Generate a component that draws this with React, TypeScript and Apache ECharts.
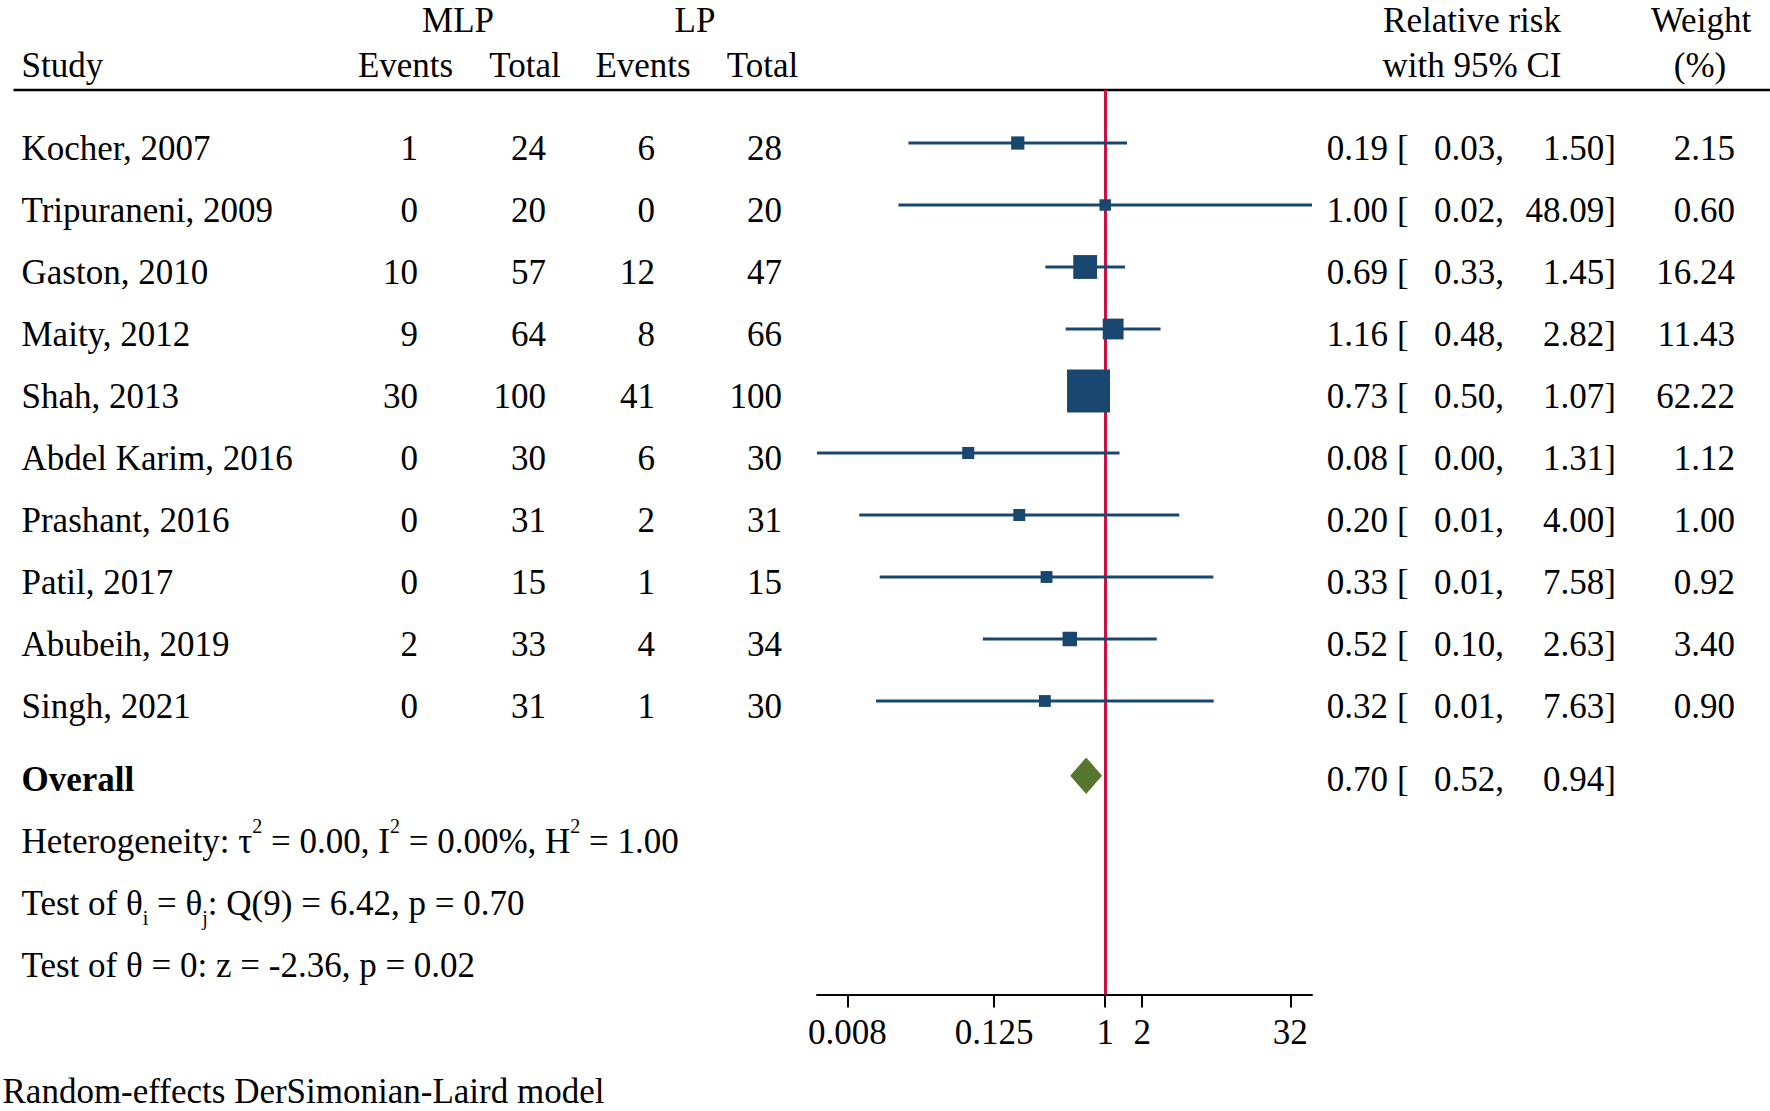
import React, { useEffect, useRef } from "react";
import * as echarts from "echarts";

// ---------- data ----------
const studies = [
  "Kocher, 2007",
  "Tripuraneni, 2009",
  "Gaston, 2010",
  "Maity, 2012",
  "Shah, 2013",
  "Abdel Karim, 2016",
  "Prashant, 2016",
  "Patil, 2017",
  "Abubeih, 2019",
  "Singh, 2021",
];
const mlpEvents = [1, 0, 10, 9, 30, 0, 0, 0, 2, 0];
const mlpTotal = [24, 20, 57, 64, 100, 30, 31, 15, 33, 31];
const lpEvents = [6, 0, 12, 8, 41, 6, 2, 1, 4, 1];
const lpTotal = [28, 20, 47, 66, 100, 30, 31, 15, 34, 30];
const relRisk = [0.1944, 1.0, 0.6871, 1.1602, 0.7317, 0.0769, 0.2, 0.3333, 0.5152, 0.3229];
const ciLow = [0.0251, 0.0208, 0.3262, 0.4773, 0.5001, 0.004526, 0.00999, 0.01465, 0.1011, 0.01367];
const ciHigh = [1.504, 48.09, 1.4476, 2.8201, 1.0707, 1.3074, 4.0036, 7.584, 2.6254, 7.6285];
const weights = [2.15, 0.6, 16.24, 11.43, 62.22, 1.12, 1.0, 0.92, 3.4, 0.9];
const overallRR = 0.7;
const overallLow = 0.5198;
const overallHigh = 0.942;
const tickValues = [0.008, 0.125, 1, 2, 32];
const tickLabels = ["0.008", "0.125", "1", "2", "32"];

// ---------- layout ----------
const W = 1770;
const H = 1111;
const FONT = "'Liberation Serif', 'Times New Roman', serif";
const FS = 35;
const NAVY = "#1A476F";
const GREEN = "#56762E";
const RED = "#CC1140";

const gridLeft = 817;
const gridWidth = 495;
const gridTop = 90;
const gridBottomY = 994.5;
const rowY0 = 143;
const rowH = 62;
const yMin = (gridTop - rowY0) / rowH;
const yMax = (gridBottomY - rowY0) / rowH;
const overallRow = 10.205;

const fmt = (v: number) => v.toFixed(2);

function txt(text: string, x: number, y: number, align = "left", extra: any = {}) {
  return {
    type: "text",
    x,
    y,
    silent: true,
    style: {
      text,
      fill: "#000",
      fontSize: FS,
      fontFamily: FONT,
      align,
      verticalAlign: "middle",
      ...extra,
    },
  };
}

function buildOption() {
  const graphics: any[] = [];
  const top = { lineHeight: 36 };
  // headers
  graphics.push(txt("MLP", 458, 20, "center", top));
  graphics.push(txt("LP", 695, 20, "center", top));
  graphics.push(txt("Relative risk", 1472, 20, "center", top));
  graphics.push(txt("Weight", 1701, 20, "center", top));
  graphics.push(txt("Study", 21.5, 65, "left"));
  graphics.push(txt("Events", 405.5, 65, "center"));
  graphics.push(txt("Total", 525, 65, "center"));
  graphics.push(txt("Events", 643, 65, "center"));
  graphics.push(txt("Total", 762.5, 65, "center"));
  graphics.push(txt("with 95% CI", 1472, 65, "center"));
  graphics.push(txt("(%)", 1700, 65, "center"));
  graphics.push({
    type: "line",
    silent: true,
    shape: { x1: 13.5, y1: 90, x2: W, y2: 90 },
    style: { stroke: "#000", lineWidth: 2.5 },
  });

  studies.forEach((s, i) => {
    const y = rowY0 + rowH * i + 5;
    graphics.push(txt(s, 21.5, y, "left"));
    graphics.push(txt(String(mlpEvents[i]), 418, y, "right"));
    graphics.push(txt(String(mlpTotal[i]), 546, y, "right"));
    graphics.push(txt(String(lpEvents[i]), 655, y, "right"));
    graphics.push(txt(String(lpTotal[i]), 782, y, "right"));
    graphics.push(txt(fmt(relRisk[i]), 1388, y, "right"));
    graphics.push(txt("[", 1397, y, "left"));
    graphics.push(txt(fmt(ciLow[i]) + ",", 1504, y, "right"));
    graphics.push(txt(fmt(ciHigh[i]) + "]", 1616, y, "right"));
    graphics.push(txt(fmt(weights[i]), 1735, y, "right"));
  });

  const oy = 779;
  graphics.push(txt("Overall", 21.5, oy, "left", { fontWeight: "bold" }));
  graphics.push(txt(fmt(overallRR), 1388, oy, "right"));
  graphics.push(txt("[", 1397, oy, "left"));
  graphics.push(txt(fmt(overallLow) + ",", 1504, oy, "right"));
  graphics.push(txt(fmt(overallHigh) + "]", 1616, oy, "right"));

  const rich = {
    sup: { fontSize: 20, lineHeight: 40, verticalAlign: "top", fontFamily: FONT, fill: "#000" },
    sub: { fontSize: 20, lineHeight: 20, verticalAlign: "bottom", fontFamily: FONT, fill: "#000" },
  };
  const stats = [
    "Heterogeneity: τ{sup|2} = 0.00, I{sup|2} = 0.00%, H{sup|2} = 1.00",
    "Test of θ{sub|i} = θ{sub|j}: Q(9) = 6.42, p = 0.70",
    "Test of θ = 0: z = -2.36, p = 0.02",
  ];
  stats.forEach((s, k) => {
    graphics.push(txt(s, 21.5, oy + rowH * (k + 1), "left", { lineHeight: 50, rich }));
  });

  graphics.push(txt("Random-effects DerSimonian-Laird model", 2.5, 1091, "left", { lineHeight: 36 }));

  const tickLog = tickValues.map((v) => Math.log2(v));

  return {
    animation: false,
    backgroundColor: "#fff",
    grid: { left: gridLeft, top: gridTop, width: gridWidth, height: gridBottomY - gridTop },
    xAxis: {
      type: "value",
      min: Math.log2(Math.min(...ciLow)),
      max: Math.log2(Math.max(...ciHigh)),
      splitLine: { show: false },
      axisLine: { show: true, onZero: false, lineStyle: { color: "#000", width: 2 } },
      axisTick: { show: true, customValues: tickLog, length: 13, lineStyle: { color: "#000", width: 2 } },
      axisLabel: {
        customValues: tickLog,
        fontSize: FS,
        fontFamily: FONT,
        color: "#000",
        margin: 20,
        formatter: (v: number) => {
          const idx = tickLog.findIndex((t) => Math.abs(t - v) < 1e-6);
          return idx >= 0 ? tickLabels[idx] : "";
        },
      },
    },
    yAxis: { type: "value", inverse: true, min: yMin, max: yMax, show: false },
    graphic: graphics,
    series: [
      {
        type: "scatter",
        data: [],
        silent: true,
        markLine: {
          silent: true,
          symbol: ["none", "none"],
          label: { show: false },
          lineStyle: { color: RED, width: 3, type: "solid" },
          data: [{ xAxis: 0 }],
        },
      },
      {
        type: "custom",
        z: 10,
        silent: true,
        clip: false,
        encode: { x: [0, 1], y: 2 },
        data: studies.map((_, i) => [Math.log2(ciLow[i]), Math.log2(ciHigh[i]), i]),
        renderItem: (params: any, api: any) => {
          const a = api.coord([api.value(0), api.value(2)]);
          const b = api.coord([api.value(1), api.value(2)]);
          return {
            type: "line",
            shape: { x1: a[0], y1: a[1], x2: b[0], y2: b[1] },
            style: { stroke: NAVY, lineWidth: 3 },
          };
        },
      },
      {
        type: "scatter",
        z: 11,
        silent: true,
        symbol: "rect",
        symbolSize: (d: number[]) => Math.sqrt(27.86 * d[2] + 115.3),
        itemStyle: { color: NAVY, opacity: 1 },
        data: relRisk.map((v, i) => [Math.log2(v), i, weights[i]]),
      },
      {
        type: "custom",
        z: 11,
        silent: true,
        clip: false,
        encode: { x: [0, 1, 2], y: 3 },
        data: [[Math.log2(overallRR), Math.log2(overallLow), Math.log2(overallHigh), overallRow]],
        renderItem: (params: any, api: any) => {
          const c = api.coord([api.value(0), api.value(3)]);
          const l = api.coord([api.value(1), api.value(3)]);
          const r = api.coord([api.value(2), api.value(3)]);
          const h = 18.3;
          return {
            type: "polygon",
            shape: {
              points: [
                [l[0], l[1]],
                [c[0], c[1] - h],
                [r[0], r[1]],
                [c[0], c[1] + h],
              ],
            },
            style: { fill: GREEN },
          };
        },
      },
    ],
  };
}

export default function App() {
  const ref = useRef<HTMLDivElement>(null);
  useEffect(() => {
    if (!ref.current) return;
    const chart = echarts.init(ref.current, undefined, { renderer: "svg" });
    chart.setOption(buildOption() as any);
    return () => chart.dispose();
  }, []);
  return (
    <div
      ref={ref}
      style={{ position: "absolute", left: 0, top: 0, width: W, height: H, background: "#fff" }}
    />
  );
}
